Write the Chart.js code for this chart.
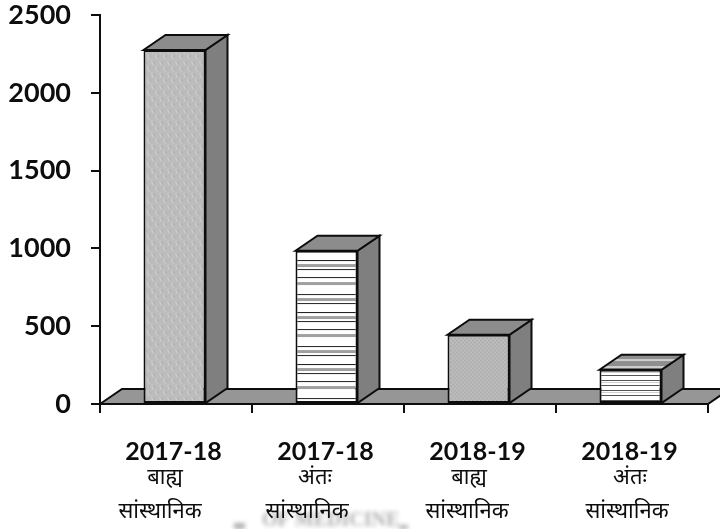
<!DOCTYPE html>
<html>
<head>
<meta charset="utf-8">
<style>
  html, body { margin: 0; padding: 0; background: #fff; }
  #wrap { position: relative; width: 720px; height: 529px; }
</style>
<script src="https://cdn.jsdelivr.net/npm/chart.js@4"></script>
</head>
<body>
<div id="wrap"><canvas id="c" width="720" height="529"></canvas></div>
<script>
// Enrolment by year and study mode
const years = ['2017-18', '2017-18', '2018-19', '2018-19'];
const modes = ['बाह्य', 'अंतः', 'बाह्य', 'अंतः'];
const institutional = 'सांस्थानिक';
const students = [2275, 985, 445, 220];
const yTicks = [0, 500, 1000, 1500, 2000, 2500];

// Depth of the extruded columns, in pixels
const DEPTH_X = 22, DEPTH_Y = 15, BAR_SHIFT = -1.5;
const INK = '#0d0d0d';

function tile(w, h, paint) {
  const t = document.createElement('canvas');
  t.width = w; t.height = h;
  paint(t.getContext('2d'));
  return t;
}

const ctxMain = document.getElementById('c').getContext('2d');

// Woven light grey fill for the tall column
const weave = ctxMain.createPattern(tile(8, 12, g => {
  g.fillStyle = '#bcbcbc'; g.fillRect(0, 0, 8, 12);
  g.fillStyle = '#cdcdcd';
  g.fillRect(1, 0, 1, 4); g.fillRect(2, 3, 1, 3); g.fillRect(5, 6, 1, 4); g.fillRect(6, 9, 1, 3);
  g.fillStyle = '#aeaeae';
  g.fillRect(3, 1, 1, 3); g.fillRect(7, 7, 1, 3);
}), 'repeat');

// Fine grain for the shorter grey column
const grain = ctxMain.createPattern(tile(4, 4, g => {
  g.fillStyle = '#b6b6b6'; g.fillRect(0, 0, 4, 4);
  g.fillStyle = '#c6c6c6'; g.fillRect(0, 0, 1, 1); g.fillRect(2, 2, 1, 1);
  g.fillStyle = '#a8a8a8'; g.fillRect(2, 0, 1, 1); g.fillRect(0, 2, 1, 1);
}), 'repeat');

// Dithered dark grey fill for side faces
const sideFill = ctxMain.createPattern(tile(2, 2, g => {
  g.fillStyle = '#747474'; g.fillRect(0, 0, 2, 2);
  g.fillStyle = '#8a8a8a'; g.fillRect(0, 0, 1, 1); g.fillRect(1, 1, 1, 1);
}), 'repeat');

// Uneven black and grey rules on white
const ruled = ctxMain.createPattern(tile(8, 52, g => {
  g.fillStyle = '#fff'; g.fillRect(0, 0, 8, 52);
  g.fillStyle = '#222';
  [0, 9, 17, 34, 43].forEach(y => g.fillRect(0, y, 8, 1));
  g.fillStyle = '#a0a0a0';
  [4, 22, 38].forEach(y => g.fillRect(0, y, 8, 3));
}), 'repeat');

// Tighter rules for the small column
const ruledFine = ctxMain.createPattern(tile(8, 10, g => {
  g.fillStyle = '#fff'; g.fillRect(0, 0, 8, 10);
  g.fillStyle = '#555';
  g.fillRect(0, 0, 8, 1); g.fillRect(0, 5, 8, 1);
  g.fillStyle = '#cfcfcf';
  g.fillRect(0, 2, 8, 1);
}), 'repeat');

// Grey lid with pale bands for the small column
const bandedLid = ctxMain.createPattern(tile(8, 7, g => {
  g.fillStyle = '#8e8e8e'; g.fillRect(0, 0, 8, 7);
  g.fillStyle = '#cfcfcf'; g.fillRect(0, 2, 8, 2);
}), 'repeat');

const fills = [weave, ruled, grain, ruledFine];
const lids = ['#8c8c8c', '#8c8c8c', '#8c8c8c', bandedLid];

function polygon(ctx, pts, fill) {
  ctx.beginPath();
  pts.forEach((p, i) => i ? ctx.lineTo(p[0], p[1]) : ctx.moveTo(p[0], p[1]));
  ctx.closePath();
  ctx.fillStyle = fill;
  ctx.fill();
  ctx.lineWidth = 2;
  ctx.strokeStyle = INK;
  ctx.stroke();
}

// Floor slab and the receding faces of every column
const depthFaces = {
  id: 'depthFaces',
  beforeDatasetsDraw(chart) {
    const { ctx, chartArea: a } = chart;
    polygon(ctx, [[a.left, a.bottom], [a.left + DEPTH_X, a.bottom - DEPTH_Y],
      [a.right + DEPTH_X, a.bottom - DEPTH_Y], [a.right, a.bottom]], '#969696');

    ctx.save();
    ctx.translate(BAR_SHIFT, 0);
    chart.getDatasetMeta(0).data.forEach((bar, i) => {
      const half = bar.width / 2;
      const l = bar.x - half, r = bar.x + half, t = bar.y, b = bar.base;
      polygon(ctx, [[r, t], [r + DEPTH_X, t - DEPTH_Y], [r + DEPTH_X, b - DEPTH_Y], [r, b]], sideFill);
      polygon(ctx, [[l, t], [l + DEPTH_X, t - DEPTH_Y], [r + DEPTH_X, t - DEPTH_Y], [r, t]], lids[i]);
    });
  },
  afterDatasetsDraw(chart) {
    chart.ctx.restore();
  }
};

// Faint seal showing through the bottom edge of the page
const seal = {
  id: 'seal',
  beforeDraw(chart) {
    const { ctx } = chart;
    ctx.save();
    ctx.filter = 'blur(2px)';
    ctx.fillStyle = '#b0b0b0';
    ctx.textBaseline = 'middle';
    ctx.textAlign = 'left';
    ctx.font = 'bold 20px "Liberation Serif", serif';
    ctx.fillText('OF MEDICINE', 262, 521);
    ctx.fillRect(234, 523, 11, 6);
    ctx.fillRect(399, 525, 9, 4);
    ctx.restore();
  }
};

// Second and third lines under each year
const modeLabels = {
  id: 'modeLabels',
  afterDraw(chart) {
    const { ctx, scales: { x } } = chart;
    ctx.save();
    ctx.fillStyle = INK;
    ctx.textAlign = 'center';
    ctx.textBaseline = 'middle';
    ctx.font = '22px "Noto Sans", "Noto Sans Devanagari", sans-serif';
    const modeNudge = [-11, -13, -11, -2];
    const lineNudge = [-16, -21, -13, -5];
    modes.forEach((m, i) => {
      const cx = x.getPixelForTick(i);
      ctx.fillText(m, cx + modeNudge[i], 478);
      ctx.fillText(institutional, cx + lineNudge[i], 512);
    });
    ctx.restore();
  }
};

new Chart(ctxMain, {
  type: 'bar',
  data: {
    labels: years,
    datasets: [{
      data: students,
      backgroundColor: fills,
      borderColor: INK,
      borderWidth: 2,
      borderSkipped: false,
      categoryPercentage: 1,
      barPercentage: 62 / 152
    }]
  },
  plugins: [seal, depthFaces, modeLabels],
  options: {
    responsive: false,
    animation: false,
    layout: { padding: { top: 15, right: 12, left: 0, bottom: 0 } },
    plugins: { legend: { display: false }, tooltip: { enabled: false } },
    scales: {
      x: {
        afterFit(s) { s.height = 125; },
        grid: { drawOnChartArea: false, color: INK, lineWidth: 2, tickLength: 9 },
        border: { color: INK, width: 2 },
        ticks: {
          color: INK, padding: 24, maxRotation: 0, labelOffset: -2.5,
          font: { family: 'Lato', weight: 'bold', size: 25 }
        }
      },
      y: {
        min: 0, max: 2500,
        afterFit(s) { s.width = 100; s.paddingTop = 0; s.paddingBottom = 0; },
        afterBuildTicks(s) { s.ticks = yTicks.map(v => ({ value: v })); },
        grid: { drawOnChartArea: false, color: INK, lineWidth: 2, tickLength: 9 },
        border: { color: INK, width: 2 },
        ticks: {
          color: INK, padding: 20,
          callback: v => String(v),
          font: { family: 'Lato', weight: 'bold', size: 27 }
        }
      }
    }
  }
});
</script>
</body>
</html>
